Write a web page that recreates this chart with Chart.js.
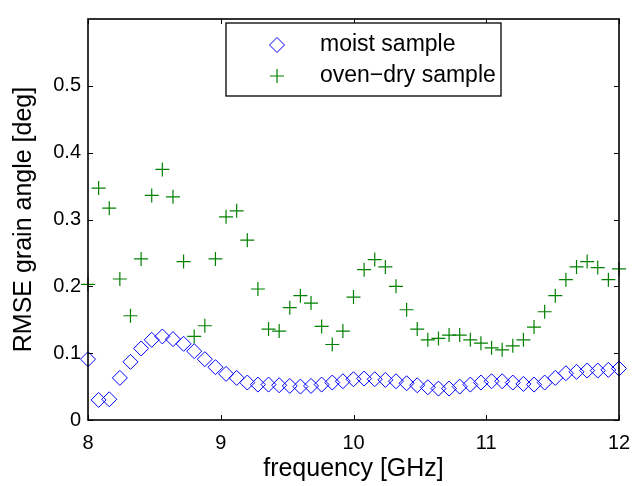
<!DOCTYPE html>
<html><head><meta charset="utf-8">
<script src="https://cdn.jsdelivr.net/npm/chart.js@4/dist/chart.umd.min.js"></script>
<style>html,body{margin:0;padding:0;background:#fff}</style>
</head><body>
<canvas id="c" width="644" height="486" style="display:block;width:644px;height:486px"></canvas>
<script>
const frequencies = [8.00,8.08,8.16,8.24,8.32,8.40,8.48,8.56,8.64,8.72,8.80,8.88,8.96,9.04,9.12,9.20,9.28,9.36,9.44,9.52,9.60,9.68,9.76,9.84,9.92,10.00,10.08,10.16,10.24,10.32,10.40,10.48,10.56,10.64,10.72,10.80,10.88,10.96,11.04,11.12,11.20,11.28,11.36,11.44,11.52,11.60,11.68,11.76,11.84,11.92,12.00];
const moistRmse = [0.091,0.030,0.031,0.063,0.087,0.107,0.120,0.125,0.121,0.114,0.103,0.091,0.079,0.069,0.063,0.056,0.053,0.053,0.052,0.051,0.050,0.051,0.053,0.056,0.058,0.061,0.062,0.061,0.060,0.058,0.055,0.052,0.049,0.047,0.047,0.050,0.053,0.056,0.058,0.058,0.056,0.054,0.053,0.056,0.063,0.070,0.072,0.074,0.074,0.075,0.077];
const ovenDryRmse = [0.203,0.347,0.317,0.211,0.156,0.241,0.336,0.375,0.334,0.237,0.125,0.141,0.241,0.304,0.313,0.269,0.196,0.136,0.133,0.168,0.186,0.175,0.140,0.113,0.133,0.184,0.225,0.240,0.229,0.200,0.165,0.136,0.120,0.122,0.127,0.127,0.120,0.115,0.108,0.105,0.111,0.120,0.139,0.162,0.186,0.210,0.229,0.237,0.228,0.210,0.226];
const seriesLabels = ['moist sample', 'oven\u2212dry sample'];
const xTickValues = [8, 9, 10, 11, 12];
const xTickLabels = ['8', '9', '10', '11', '12'];
const yTickValues = [0, 0.1, 0.2, 0.3, 0.4, 0.5];
const yTickLabels = ['0', '0.1', '0.2', '0.3', '0.4', '0.5'];
const xTitle = 'frequency [GHz]';
const yTitle = 'RMSE grain angle [deg]';

const FONT = '"Liberation Sans", Arial, Helvetica, sans-serif';
const BLUE = '#0000ff', GREEN = '#008000';

function drawDiamond(ctx, x, y, r) {
  ctx.beginPath();
  ctx.moveTo(x, y - r); ctx.lineTo(x + r, y); ctx.lineTo(x, y + r); ctx.lineTo(x - r, y); ctx.closePath();
  ctx.stroke();
}
function drawCross(ctx, x, y, r) {
  ctx.beginPath();
  ctx.moveTo(x - r, y); ctx.lineTo(x + r, y); ctx.moveTo(x, y - r); ctx.lineTo(x, y + r);
  ctx.stroke();
}

const framePlugin = {
  id: 'frame',
  afterDatasetsDraw(chart) {
    const {ctx, chartArea: a, scales: {x, y}} = chart;
    ctx.save();
    ctx.strokeStyle = '#000';
    ctx.lineWidth = 1;
    ctx.beginPath();
    x.ticks.forEach(t => {
      const px = Math.round(x.getPixelForValue(t.value)) + 0.5;
      ctx.moveTo(px, a.bottom); ctx.lineTo(px, a.bottom - 5);
      ctx.moveTo(px, a.top); ctx.lineTo(px, a.top + 5);
    });
    y.ticks.forEach(t => {
      const py = Math.round(y.getPixelForValue(t.value)) + 0.5;
      ctx.moveTo(a.left, py); ctx.lineTo(a.left + 5, py);
      ctx.moveTo(a.right, py); ctx.lineTo(a.right - 5, py);
    });
    ctx.stroke();
    ctx.lineWidth = 1.6;
    ctx.strokeRect(a.left, a.top, a.right - a.left, a.bottom - a.top);

    // legend box
    const lx = 226, ly = 23, lw = 275, lh = 73;
    ctx.fillStyle = '#fff';
    ctx.fillRect(lx, ly, lw, lh);
    ctx.lineWidth = 1.3;
    ctx.strokeRect(lx, ly, lw, lh);
    ctx.lineWidth = 1;
    ctx.strokeStyle = BLUE;
    drawDiamond(ctx, 277, 45, 7.5);
    ctx.strokeStyle = GREEN;
    ctx.lineWidth = 1.2;
    drawCross(ctx, 277, 76, 7);
    ctx.fillStyle = '#000';
    ctx.font = '23px ' + FONT;
    ctx.textAlign = 'left';
    ctx.textBaseline = 'middle';
    ctx.fillText(chart.data.datasets[0].label, 320, 45);
    ctx.fillText(chart.data.datasets[1].label, 320, 76);
    ctx.restore();
  }
};

new Chart(document.getElementById('c'), {
  type: 'scatter',
  data: {
    datasets: [
      {
        label: seriesLabels[0],
        data: frequencies.map((f, i) => ({x: f, y: moistRmse[i]})),
        pointStyle: 'rectRot', pointRadius: 7.5, pointBorderWidth: 1,
        pointBorderColor: BLUE, pointBackgroundColor: 'rgba(0,0,0,0)',
        borderColor: BLUE, backgroundColor: 'rgba(0,0,0,0)',
        showLine: false, clip: false, order: 2
      },
      {
        label: seriesLabels[1],
        data: frequencies.map((f, i) => ({x: f, y: ovenDryRmse[i]})),
        pointStyle: 'cross', pointRadius: 7, pointBorderWidth: 1.2,
        pointBorderColor: GREEN, pointBackgroundColor: GREEN,
        borderColor: GREEN, backgroundColor: GREEN,
        showLine: false, clip: false, order: 1
      }
    ]
  },
  options: {
    responsive: false, animation: false, devicePixelRatio: 1,
    layout: {padding: {left: 0, right: 25, top: 7, bottom: 0}},
    plugins: {legend: {display: false}, tooltip: {enabled: false}},
    events: [],
    scales: {
      x: {
        type: 'linear', min: 8, max: 12,
        grid: {display: false, drawTicks: false}, border: {display: false},
        afterBuildTicks: s => { s.ticks = xTickValues.map(v => ({value: v})); },
        ticks: {color: '#000', font: {family: FONT, size: 20}, padding: 11, maxRotation: 0, autoSkip: false,
                callback: (v, i) => xTickLabels[i]},
        title: {display: true, text: xTitle, color: '#000', font: {family: FONT, size: 25, lineHeight: 1}, padding: {top: 0, bottom: 4}},
        afterFit: s => { s.height = 66; }
      },
      y: {
        type: 'linear', min: 0, max: 0.6,
        grid: {display: false, drawTicks: false}, border: {display: false},
        afterBuildTicks: s => { s.ticks = yTickValues.map(v => ({value: v})); },
        ticks: {color: '#000', font: {family: FONT, size: 20}, padding: 7, autoSkip: false,
                callback: (v, i) => yTickLabels[i]},
        title: {display: true, text: yTitle, color: '#000', font: {family: FONT, size: 25, lineHeight: 1}, padding: {top: 12, bottom: 0}},
        afterFit: s => { s.width = 88; }
      }
    }
  },
  plugins: [framePlugin]
});
</script>
</body></html>
